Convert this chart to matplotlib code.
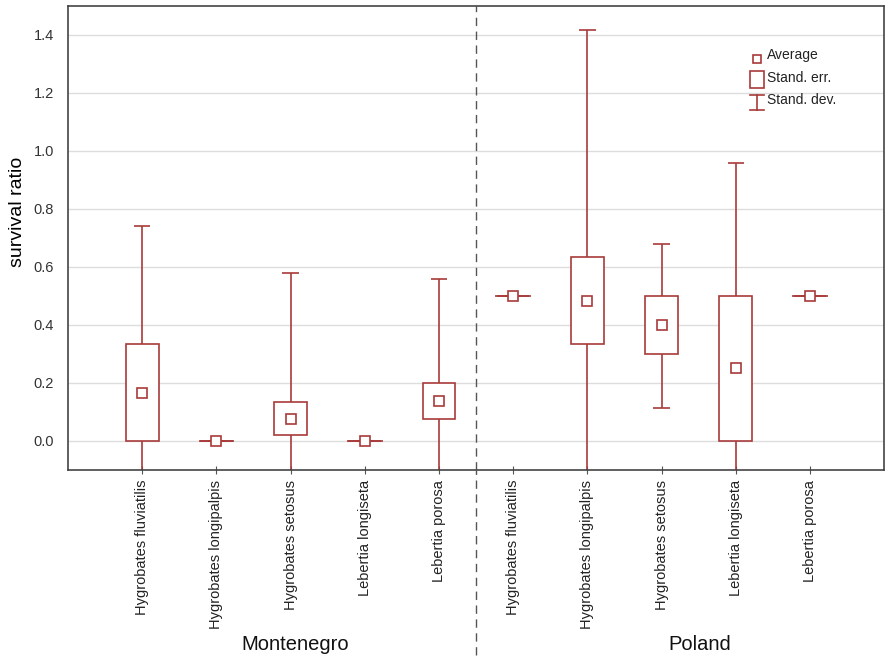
import numpy as np
import matplotlib.pyplot as plt
from matplotlib.patches import Rectangle

plt.rcParams["font.family"] = ["Liberation Sans", "DejaVu Sans"]

species = [
    "Hygrobates fluviatilis",
    "Hygrobates longipalpis",
    "Hygrobates setosus",
    "Lebertia longiseta",
    "Lebertia porosa",
]
groups = ["Montenegro", "Poland"]

# mean, standard error range and standard deviation range per species
mean_mn = [0.165, 0.0, 0.075, 0.0, 0.137]
se_low_mn = [0.0, 0.0, 0.02, 0.0, 0.076]
se_high_mn = [0.333, 0.0, 0.134, 0.0, 0.2]
sd_low_mn = [-0.41, 0.0, -0.43, 0.0, -0.29]
sd_high_mn = [0.74, 0.0, 0.58, 0.0, 0.56]

mean_pl = [0.5, 0.483, 0.4, 0.25, 0.5]
se_low_pl = [0.5, 0.333, 0.3, 0.0, 0.5]
se_high_pl = [0.5, 0.633, 0.5, 0.5, 0.5]
sd_low_pl = [0.5, -0.46, 0.113, -0.46, 0.5]
sd_high_pl = [0.5, 1.417, 0.68, 0.957, 0.5]

mean = mean_mn + mean_pl
se_low = se_low_mn + se_low_pl
se_high = se_high_mn + se_high_pl
sd_low = sd_low_mn + sd_low_pl
sd_high = sd_high_mn + sd_high_pl
labels = species + species

red = "#A83A3A"
box_w = 0.44
cap_w = 0.22

fig = plt.figure(figsize=(8.89, 6.6), dpi=100)
ax = fig.add_axes([0.0765, 0.288, 0.918, 0.703])

x = np.arange(1, len(mean) + 1)
for xi, m, sl, sh, dl, dh in zip(x, mean, se_low, se_high, sd_low, sd_high):
    # whiskers for the standard deviation
    ax.vlines(xi, dl, sl, color=red, lw=1.2, zorder=2)
    ax.vlines(xi, sh, dh, color=red, lw=1.2, zorder=2)
    ax.hlines([dl, dh], xi - cap_w / 2, xi + cap_w / 2, color=red, lw=1.2, zorder=2)
    # standard error box
    ax.add_patch(Rectangle((xi - box_w / 2, sl), box_w, sh - sl,
                           facecolor="white", edgecolor=red, lw=1.2, zorder=3))
    if sh == sl:
        ax.hlines(sl, xi - 0.24, xi + 0.24, color=red, lw=1.2, zorder=3)

ax.plot(x, mean, ls="none", marker="s", ms=7, mfc="white", mec=red, mew=1.2, zorder=4)

ax.set_xlim(0, 11)
ax.set_ylim(-0.1, 1.5)
ax.set_yticks(np.arange(0, 1.41, 0.2))
ax.set_yticklabels([f"{v:.1f}" for v in np.arange(0, 1.41, 0.2)])
ax.set_xticks(x)
ax.set_xticklabels(labels, rotation=90, fontsize=10.5, color="#222222")
ax.tick_params(axis="x", direction="inout", length=6, width=0.8, color="#555555", pad=4)
ax.tick_params(axis="y", length=0, pad=10, labelsize=10.5, labelcolor="#333333")
ax.grid(axis="y", color="#dddddd", lw=1)
ax.set_axisbelow(True)
for s in ax.spines.values():
    s.set_color("#444444")
    s.set_linewidth(1.2)

ax.set_ylabel("survival ratio", fontsize=14)
ax.yaxis.set_label_coords(-0.052, 0.556)

# divider between the two countries
ax.plot([5.5, 5.5], [-0.1, 1.5], color="#555555", ls=(0, (6, 4)), lw=1.0, zorder=1)
fig.add_artist(plt.Line2D([0.5355, 0.5355], [0.008, 0.288], color="#555555",
                          ls=(0, (6, 4)), lw=1.0))

fig.text(0.332, 0.023, groups[0], ha="center", va="center", fontsize=14.5, color="#111111")
fig.text(0.787, 0.023, groups[1], ha="center", va="center", fontsize=14.5, color="#111111")

# legend
tr = ax.transAxes
lx = (757 - 68) / 816
ax.plot([lx], [(470 - 59) / 464], transform=tr, marker="s", ms=6, mfc="white",
        mec=red, mew=1.2, ls="none")
ax.add_patch(Rectangle(((750 - 68) / 816, (470 - 88) / 464), 14 / 816, 17 / 464,
                       transform=tr, facecolor="white", edgecolor=red, lw=1.2))
ly_top, ly_bot = (470 - 95) / 464, (470 - 110) / 464
ax.plot([lx, lx], [ly_bot, ly_top], transform=tr, color=red, lw=1.2)
ax.plot([lx - 7 / 816, lx + 7 / 816], [ly_top, ly_top], transform=tr, color=red, lw=1.2)
ax.plot([lx - 7 / 816, lx + 7 / 816], [ly_bot, ly_bot], transform=tr, color=red, lw=1.2)
tx = (767 - 68) / 816
for txt, py in zip(["Average", "Stand. err.", "Stand. dev."], [55, 78, 100]):
    ax.text(tx, (470 - py) / 464, txt, transform=tr, fontsize=10, va="center", color="#222222")

fig.savefig("out.png", dpi=100)
